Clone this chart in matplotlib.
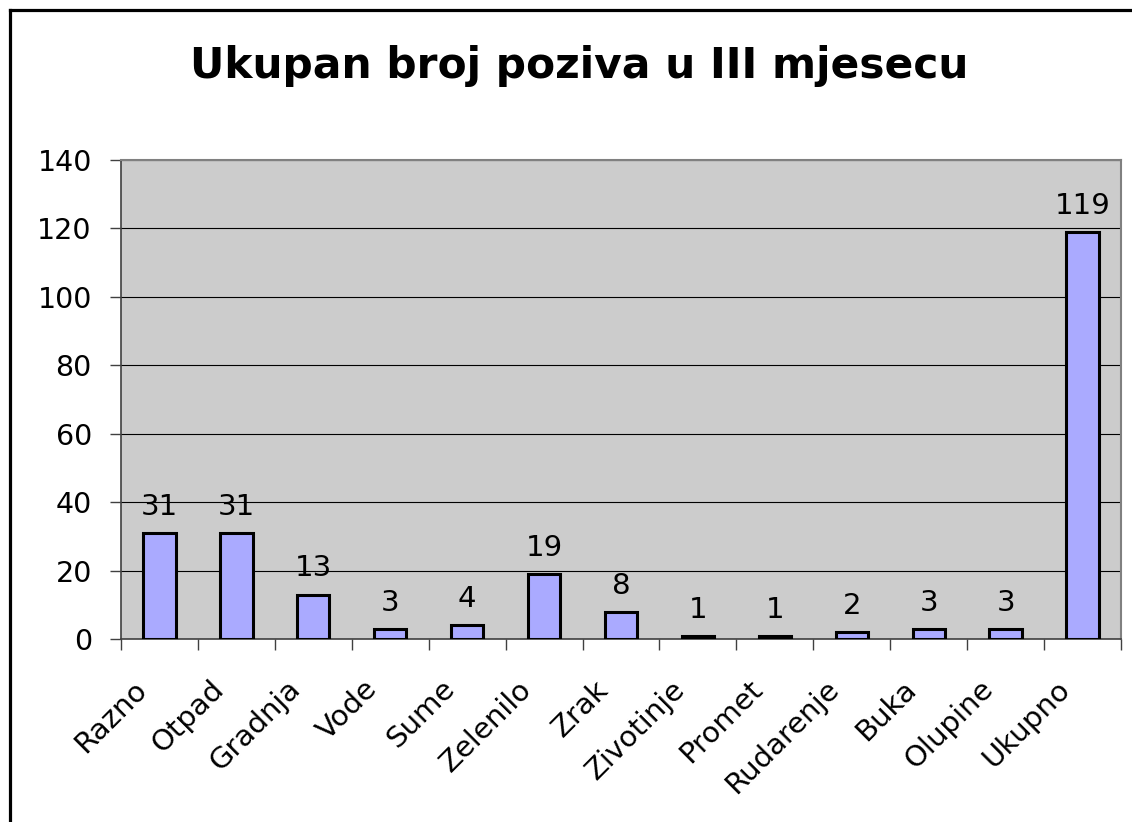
import matplotlib.pyplot as plt
from matplotlib.lines import Line2D
from matplotlib.transforms import ScaledTranslation
import numpy as np

categories = ['Razno', 'Otpad', 'Gradnja', 'Vode', 'Sume', 'Zelenilo', 'Zrak',
              'Zivotinje', 'Promet', 'Rudarenje', 'Buka', 'Olupine', 'Ukupno']
values = [31, 31, 13, 3, 4, 19, 8, 1, 1, 2, 3, 3, 119]
y_ticks = [0, 20, 40, 60, 80, 100, 120, 140]

plt.rcParams['font.family'] = ['DejaVu Sans']

fig = plt.figure(figsize=(11.32, 8.22), dpi=100)
W, H = 1132, 822
ax = fig.add_axes([121 / W, 1 - 639 / H, (1121 - 121) / W, (639 - 160) / H])

# chart border: only left and top edges are inside the image
fig.lines.append(Line2D([9.5 / W, 9.5 / W], [0, 1 - 10.5 / H], transform=fig.transFigure,
                        color='black', linewidth=2.3, solid_capstyle='projecting'))
fig.lines.append(Line2D([9.5 / W, 1.0], [1 - 10.5 / H, 1 - 10.5 / H], transform=fig.transFigure,
                        color='black', linewidth=2.3, solid_capstyle='projecting'))

x = np.arange(len(categories))
ax.set_facecolor('#CCCCCC')
ax.bar(x, values, width=0.42, color='#AAAAFF', edgecolor='black', linewidth=2.2, zorder=3)

for xi, v in zip(x, values):
    ax.annotate(str(v), (xi, v), xytext=(0, 13), textcoords='offset points',
                ha='center', va='baseline', fontsize=21)

ax.set_xlim(-0.5, len(categories) - 0.5)
ax.set_ylim(0, 140)
ax.set_yticks(y_ticks)
ax.yaxis.grid(True, color='black', linewidth=0.8, zorder=1)
ax.set_axisbelow(True)
ax.tick_params(axis='y', labelsize=20.5, length=8, width=1, color='#404040', pad=13)

ax.set_xticks(x)
ax.set_xticklabels(categories, rotation=45, ha='right', va='center',
                   rotation_mode='anchor', fontsize=21)
ax.tick_params(axis='x', length=0, pad=33)
offset = ScaledTranslation(-17 / 100, 0, fig.dpi_scale_trans)
for lbl in ax.get_xticklabels():
    lbl.set_transform(lbl.get_transform() + offset)
ax.set_xticks(np.arange(len(categories) + 1) - 0.5, minor=True)
ax.tick_params(axis='x', which='minor', length=8, width=1, color='#404040')

for side in ['top', 'right']:
    ax.spines[side].set_color('#808080')
    ax.spines[side].set_linewidth(1.5)
for side in ['left', 'bottom']:
    ax.spines[side].set_color('#404040')
    ax.spines[side].set_linewidth(1.2)

fig.text(579 / W, 1 - 66 / H, 'Ukupan broj poziva u III mjesecu', ha='center', va='center',
         fontsize=30.5, fontweight='bold')

fig.savefig('out.png', dpi=100)
